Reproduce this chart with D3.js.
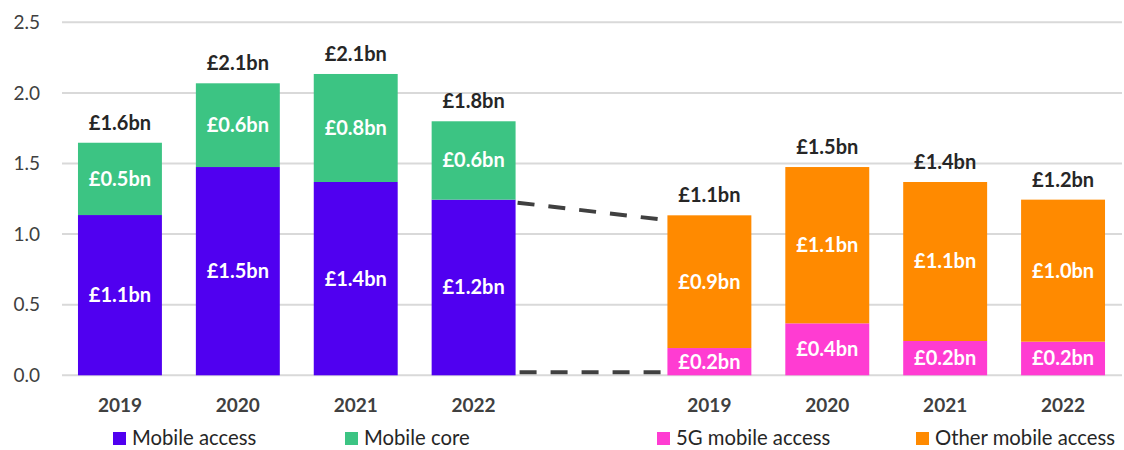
<html>
<head>
<meta charset="utf-8">
<style>
  body { margin: 0; background: #fff; }
  svg { display: block; font-family: Lato, "Open Sans", sans-serif; }
  .grid line { stroke: #d9d9d9; stroke-width: 2px; }
  .tick-label { font-size: 19px; fill: #404040; }
  .year-label { font-size: 19px; font-weight: bold; fill: #404040; }
  .total-label { font-size: 20px; font-weight: bold; fill: #262626; }
  .inner-label { font-size: 20px; font-weight: bold; fill: #fff; }
  .legend-text { font-size: 20.3px; fill: #262626; }
  .bridge { stroke: #404040; stroke-width: 4px; stroke-dasharray: 17,14; fill: none; }
</style>
</head>
<body>
<div id="chart"></div>
<script src="https://d3js.org/d3.v7.min.js"></script>
<script>

// data (bn)
const years = ["2019", "2020", "2021", "2022"];
const mobileAccess = [1.135, 1.475, 1.369, 1.244];
const mobileCore = [0.512, 0.593, 0.765, 0.555];
const access5G = [0.193, 0.368, 0.243, 0.238];
const otherAccess = [0.940, 1.107, 1.126, 1.006];

const mobileAccessLabels = ["£1.1bn", "£1.5bn", "£1.4bn", "£1.2bn"];
const mobileCoreLabels = ["£0.5bn", "£0.6bn", "£0.8bn", "£0.6bn"];
const leftTotalLabels = ["£1.6bn", "£2.1bn", "£2.1bn", "£1.8bn"];
const access5GLabels = ["£0.2bn", "£0.4bn", "£0.2bn", "£0.2bn"];
const otherAccessLabels = ["£0.9bn", "£1.1bn", "£1.1bn", "£1.0bn"];
const rightTotalLabels = ["£1.1bn", "£1.5bn", "£1.4bn", "£1.2bn"];

const yTicks = [0, 0.5, 1.0, 1.5, 2.0, 2.5];

const colors = {
    access: "#5000f0",
    core: "#3cc483",
    g5: "#ff3cd2",
    other: "#ff8a00"
};

const W = 1124, H = 450;
const margin = {top: 22, right: 2, bottom: 75, left: 61};

const svg = d3.select("#chart").append("svg")
    .attr("width", W)
    .attr("height", H);

// 9 slots: 4 bars, an empty gap, 4 bars
const slots = years.map(y => "L" + y).concat(["gap"]).concat(years.map(y => "R" + y));

const x = d3.scaleBand()
    .domain(slots)
    .range([margin.left, W - margin.right])
    .paddingInner(0.288)
    .paddingOuter(0.144);

const y = d3.scaleLinear()
    .domain([0, 2.5])
    .range([H - margin.bottom + 0.3, margin.top + 0.3]);

const bw = x.bandwidth();

// gridlines
svg.append("g").attr("class", "grid")
    .selectAll("line").data(yTicks).join("line")
    .attr("x1", margin.left + 1)
    .attr("x2", W - margin.right)
    .attr("y1", d => y(d))
    .attr("y2", d => y(d));

// y tick labels
svg.append("g")
    .selectAll("text").data(yTicks).join("text")
    .attr("class", "tick-label")
    .attr("x", 40)
    .attr("y", d => y(d))
    .attr("dy", "0.35em")
    .attr("text-anchor", "end")
    .text(d => d.toFixed(1));

// build stacked segments
const segments = [];
years.forEach((yr, i) => {
    segments.push({slot: "L" + yr, y0: 0, y1: mobileAccess[i], color: colors.access, label: mobileAccessLabels[i]});
    segments.push({slot: "L" + yr, y0: mobileAccess[i], y1: mobileAccess[i] + mobileCore[i], color: colors.core, label: mobileCoreLabels[i]});
    segments.push({slot: "R" + yr, y0: 0, y1: access5G[i], color: colors.g5, label: access5GLabels[i]});
    segments.push({slot: "R" + yr, y0: access5G[i], y1: access5G[i] + otherAccess[i], color: colors.other, label: otherAccessLabels[i]});
});

const totals = [];
years.forEach((yr, i) => {
    totals.push({slot: "L" + yr, v: mobileAccess[i] + mobileCore[i], label: leftTotalLabels[i]});
    totals.push({slot: "R" + yr, v: access5G[i] + otherAccess[i], label: rightTotalLabels[i]});
});

svg.append("g")
    .selectAll("rect").data(segments).join("rect")
    .attr("x", d => x(d.slot))
    .attr("width", bw)
    .attr("y", d => y(d.y1))
    .attr("height", d => y(d.y0) - y(d.y1))
    .attr("fill", d => d.color);

svg.append("g")
    .selectAll("text").data(segments).join("text")
    .attr("class", "inner-label")
    .attr("x", d => x(d.slot) + bw / 2)
    .attr("y", d => (y(d.y0) + y(d.y1)) / 2)
    .attr("dy", "0.35em")
    .attr("text-anchor", "middle")
    .text(d => d.label);

svg.append("g")
    .selectAll("text").data(totals).join("text")
    .attr("class", "total-label")
    .attr("x", d => x(d.slot) + bw / 2)
    .attr("y", d => y(d.v) - 13)
    .attr("text-anchor", "middle")
    .text(d => d.label);

// dashed bridge lines between 2022 mobile access and the breakdown
const lastL = "L" + years[years.length - 1];
const firstR = "R" + years[0];
svg.append("line").attr("class", "bridge")
    .attr("x1", x(lastL) + bw + 2)
    .attr("y1", y(mobileAccess[3]) + 3)
    .attr("x2", x(firstR) - 8)
    .attr("y2", y(access5G[0] + otherAccess[0]) + 4);
svg.append("line").attr("class", "bridge")
    .attr("x1", x(lastL) + bw + 4)
    .attr("y1", y(0) - 3)
    .attr("x2", x(firstR) - 6)
    .attr("y2", y(0) - 3);

// year labels under each bar
svg.append("g")
    .selectAll("text").data(slots.filter(s => s !== "gap")).join("text")
    .attr("class", "year-label")
    .attr("x", d => x(d) + bw / 2)
    .attr("y", 412)
    .attr("text-anchor", "middle")
    .text(d => d.slice(1));

// legend
const legend = [
    {name: "Mobile access", color: colors.access, x: 113},
    {name: "Mobile core", color: colors.core, x: 345},
    {name: "5G mobile access", color: colors.g5, x: 657},
    {name: "Other mobile access", color: colors.other, x: 916}
];
const lg = svg.append("g").selectAll("g").data(legend).join("g")
    .attr("transform", d => "translate(" + d.x + ",0)");
lg.append("rect")
    .attr("y", 432)
    .attr("width", 13).attr("height", 13)
    .attr("fill", d => d.color);
lg.append("text")
    .attr("class", "legend-text")
    .attr("x", 19)
    .attr("y", 445)
    .text(d => d.name);

</script>
</body>
</html>
